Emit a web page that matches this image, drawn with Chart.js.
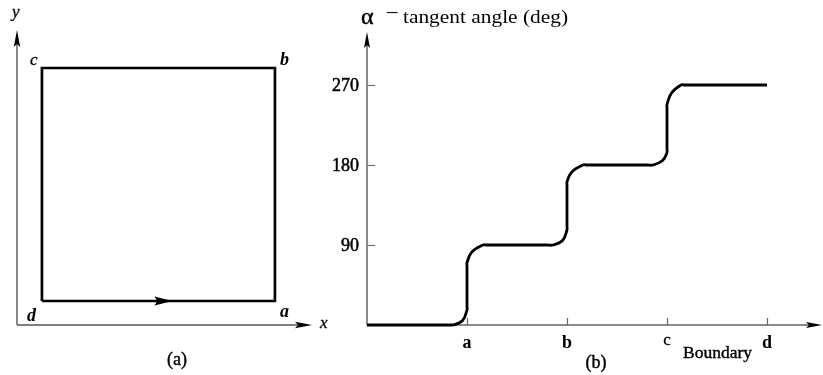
<!DOCTYPE html>
<html>
<head>
<meta charset="utf-8">
<script src="https://cdn.jsdelivr.net/npm/chart.js@4"></script>
<style>
  html, body { margin: 0; padding: 0; background: #fff; }
  #wrap { position: relative; width: 823px; height: 375px; overflow: hidden; background: #fff; }
  canvas { position: absolute; top: 0; }
  #ca { left: 0; }
  #cb { left: 300px; }
</style>
</head>
<body>
<div id="wrap">
  <canvas id="ca" width="330" height="375"></canvas>
  <canvas id="cb" width="523" height="375"></canvas>
</div>
<script>
// ---------- data: panel (a) square boundary d -> a -> b -> c -> d ----------
const squareX = [0, 1, 1, 0, 0];
const squareY = [0, 0, 1, 1, 0];
const cornerNames = ['d', 'a', 'b', 'c'];

// ---------- data: panel (b) tangent angle along the boundary ----------
const boundaryPos = [0, 0.8, 0.86, 0.956, 1, 1, 1, 1, 1.047, 1.16, 1.2,
                     1.8, 1.86, 1.956, 2, 2, 2, 2, 2.047, 2.16, 2.2,
                     2.8, 2.86, 2.956, 3, 3, 3, 3, 3.045, 3.14, 3.18, 4];
const tangentAngle = [0, 0, 0, 5, 17, 21, 66, 70, 82, 90, 90,
                      90, 90, 95, 107, 111, 157, 161, 172, 180, 180,
                      180, 180, 185, 194, 198, 244, 248, 261, 270, 270, 270];
const yTickValues = [90, 180, 270];
const xTickLabels = ['a', 'b', 'c', 'd'];
const xTickValues = [1, 2, 3, 4];

const SERIF = '"Liberation Serif", "DejaVu Serif", serif';
Chart.defaults.font.family = SERIF;

function arrowHead(ctx, tipX, tipY, dir, len, half) {
  ctx.save();
  ctx.fillStyle = '#000';
  ctx.beginPath();
  if (dir === 'up') {
    ctx.moveTo(tipX, tipY);
    ctx.lineTo(tipX - half, tipY + len);
    ctx.lineTo(tipX, tipY + len - 3);
    ctx.lineTo(tipX + half, tipY + len);
  } else {
    ctx.moveTo(tipX, tipY);
    ctx.lineTo(tipX - len, tipY - half);
    ctx.lineTo(tipX - len + 3, tipY);
    ctx.lineTo(tipX - len, tipY + half);
  }
  ctx.closePath();
  ctx.fill();
  ctx.restore();
}

function txt(ctx, s, x, y, font, align, thick) {
  ctx.save();
  ctx.font = font;
  ctx.fillStyle = '#000';
  ctx.strokeStyle = '#000';
  ctx.textAlign = align || 'left';
  ctx.textBaseline = 'alphabetic';
  ctx.fillText(s, x, y);
  if (thick) { ctx.lineWidth = thick; ctx.strokeText(s, x, y); }
  ctx.restore();
}

// ---------- panel (a) ----------
const panelA = {
  id: 'panelA',
  beforeDatasetsDraw(chart) {
    const ctx = chart.ctx, a = chart.chartArea;
    ctx.save();
    ctx.strokeStyle = '#555';
    ctx.lineWidth = 1.4;
    ctx.beginPath();
    ctx.moveTo(a.left, a.bottom);
    ctx.lineTo(a.left, a.top + 8);
    ctx.moveTo(a.left, a.bottom);
    ctx.lineTo(a.right - 8, a.bottom);
    ctx.stroke();
    ctx.restore();
    arrowHead(ctx, a.left, a.top, 'up', 17, 3.2);
    arrowHead(ctx, a.right, a.bottom, 'right', 17, 3.2);
  },
  afterDatasetsDraw(chart) {
    const ctx = chart.ctx, xs = chart.scales.x, ys = chart.scales.y;
    const tipX = xs.getPixelForValue(0.56), yy = ys.getPixelForValue(0);
    arrowHead(ctx, tipX, yy, 'right', 18, 4.5);
    const px = i => xs.getPixelForValue(squareX[i]);
    const py = i => ys.getPixelForValue(squareY[i]);
    txt(ctx, cornerNames[0], px(0) - 15, py(0) + 20, 'bold italic 18px ' + SERIF);
    txt(ctx, cornerNames[1], px(1) + 5, py(1) + 16, 'bold italic 18px ' + SERIF);
    txt(ctx, cornerNames[2], px(2) + 5, py(2) - 3, 'bold italic 18px ' + SERIF);
    txt(ctx, cornerNames[3], px(3) - 12, py(3) - 3, 'italic 17px ' + SERIF, 'left', 0.3);
    const a = chart.chartArea;
    txt(ctx, 'x', a.right + 8, a.bottom + 3, 'italic 17px ' + SERIF, 'left', 0.3);
    txt(ctx, 'y', a.left - 5, 17, 'italic 17px ' + SERIF, 'left', 0.3);
    txt(ctx, '(a)', 177, 365, '18px ' + SERIF, 'center', 0.4);
  }
};

new Chart(document.getElementById('ca'), {
  type: 'line',
  data: {
    datasets: [{
      data: squareX.map((x, i) => ({ x, y: squareY[i] })),
      borderColor: '#000',
      borderWidth: 2.7,
      pointRadius: 0,
      tension: 0,
      fill: false,
      clip: false,
      borderJoinStyle: 'miter'
    }]
  },
  options: {
    responsive: false,
    animation: false,
    devicePixelRatio: 1,
    layout: { padding: { left: 17, right: 18, top: 30, bottom: 50 } },
    plugins: { legend: { display: false }, tooltip: { enabled: false } },
    scales: {
      x: { type: 'linear', display: false, min: -0.107, max: 1.159 },
      y: { type: 'linear', display: false, min: -0.103, max: 1.163 }
    }
  },
  plugins: [panelA]
});

// ---------- panel (b) ----------
const panelB = {
  id: 'panelB',
  beforeDatasetsDraw(chart) {
    const ctx = chart.ctx, a = chart.chartArea, xs = chart.scales.x, ys = chart.scales.y;
    ctx.save();
    ctx.strokeStyle = '#666';
    ctx.lineWidth = 1.5;
    ctx.beginPath();
    ctx.moveTo(a.left, a.bottom);
    ctx.lineTo(a.left, a.top + 8);
    ctx.moveTo(a.left, a.bottom);
    ctx.lineTo(a.right - 8, a.bottom);
    ctx.stroke();
    ctx.lineWidth = 1.2;
    ctx.beginPath();
    yTickValues.forEach(v => {
      const p = Math.round(ys.getPixelForValue(v)) + 0.5;
      ctx.moveTo(a.left, p);
      ctx.lineTo(a.left + 8, p);
    });
    xTickValues.forEach(v => {
      const p = Math.round(xs.getPixelForValue(v)) + 0.5;
      ctx.moveTo(p, a.bottom);
      ctx.lineTo(p, a.bottom - 7);
    });
    ctx.stroke();
    ctx.restore();
    arrowHead(ctx, a.left, a.top, 'up', 16, 3);
    arrowHead(ctx, a.right, a.bottom, 'right', 16, 3);

    yTickValues.forEach(v => {
      txt(ctx, String(v), a.left - 8, ys.getPixelForValue(v) + 6, '18px ' + SERIF, 'right', 0.5);
    });
    xTickLabels.forEach((s, i) => {
      const p = xs.getPixelForValue(xTickValues[i]);
      if (s === 'c') txt(ctx, s, p, a.bottom + 20, '17px ' + SERIF, 'center', 0.3);
      else txt(ctx, s, p, a.bottom + 23, 'bold 18px ' + SERIF, 'center');
    });
    txt(ctx, 'Boundary', 383, 358, '17.5px ' + SERIF, 'left', 0.4);
    txt(ctx, '(b)', 296, 368, '18px ' + SERIF, 'center', 0.4);
    // title
    txt(ctx, '\u03B1', 61, 24, '24px ' + SERIF, 'left', 0.4);
    txt(ctx, '\u2013', 87, 18, '21px ' + SERIF, 'left');
    ctx.save();
    ctx.font = '19px ' + SERIF;
    const s = 'tangent angle (deg)';
    const w = ctx.measureText(s).width;
    ctx.translate(103, 23);
    ctx.scale(165 / w, 1);
    ctx.fillStyle = '#000';
    ctx.fillText(s, 0, 0);
    ctx.restore();
  }
};

new Chart(document.getElementById('cb'), {
  type: 'line',
  data: {
    datasets: [{
      data: boundaryPos.map((x, i) => ({ x, y: tangentAngle[i] })),
      borderColor: '#000',
      borderWidth: 2.8,
      pointRadius: 0,
      tension: 0.4,
      fill: false,
      clip: false
    }]
  },
  options: {
    responsive: false,
    animation: false,
    devicePixelRatio: 1,
    layout: { padding: { left: 67, right: 1, top: 32, bottom: 50 } },
    plugins: { legend: { display: false }, tooltip: { enabled: false } },
    scales: {
      x: { type: 'linear', display: false, min: 0, max: 4.55 },
      y: { type: 'linear', display: false, min: 0, max: 329.6 }
    }
  },
  plugins: [panelB]
});
</script>
</body>
</html>
